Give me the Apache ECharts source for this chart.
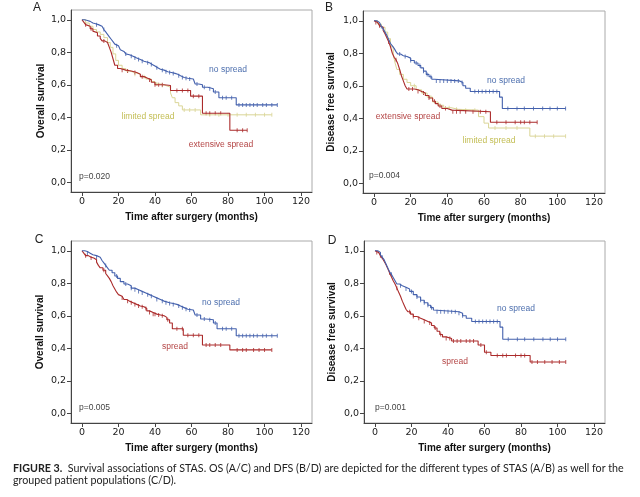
<!DOCTYPE html>
<html>
<head>
<meta charset="utf-8">
<script src="https://cdn.jsdelivr.net/npm/echarts@6/dist/echarts.min.js"></script>
<style>
html,body{margin:0;padding:0;background:#fff;}
#chart{width:640px;height:497px;}
</style>
</head>
<body>
<div id="chart"></div>
<script>
// ---------- tick labels ----------
const xTicks = [0, 20, 40, 60, 80, 100, 120];
const yTicks = [0, 0.2, 0.4, 0.6, 0.8, 1.0];

// ---------- Panel A: overall survival, STAS types ----------
const aNoT = [0,1.5,3,4.5,6,7.5,9,10,11,12,13,14,15,16,17,18,19,20,21,22,23,24,25,26,28,30,32,34,35.5,37,38.5,40,41.5,43,45,47,49,51,52.5,54,56,58,61,62,64,66,69,72,75,84.5];
const aNoS = [1,0.995,0.99,0.98,0.975,0.97,0.965,0.96,0.95,0.94,0.925,0.91,0.895,0.88,0.865,0.85,0.84,0.83,0.815,0.805,0.795,0.79,0.785,0.775,0.765,0.755,0.745,0.74,0.735,0.725,0.715,0.705,0.695,0.69,0.68,0.675,0.67,0.665,0.655,0.645,0.64,0.635,0.63,0.605,0.6,0.585,0.575,0.555,0.52,0.476];
const aNoEnd = 107;
const aNoCens = [8,12,19,24,27,29,31,33,36,38,41,44,46,48,50,53,55,57,59,63,67,70,73,77,79,82,86,88,90,92,94,96,99,101,104,107];

const aLimT = [0,2,4,6,8,10,12,14,15.5,17,18.5,20,22,24,26,29,32,35,38,40,43,46,48.5,49.5,51,53,55,65];
const aLimS = [1,0.98,0.96,0.94,0.925,0.91,0.89,0.86,0.83,0.79,0.75,0.72,0.7,0.685,0.675,0.665,0.65,0.635,0.62,0.605,0.595,0.585,0.55,0.52,0.49,0.47,0.445,0.415];
const aLimEnd = 104;
const aLimCens = [25,29,34,41,44,56,59,62,70,75,80,85,90,95,100,104];

const aExtT = [0,1,2,3,4.5,6,7,8.5,10,11,12.5,14,15,16,17,18,19.5,21,24,27,30,32,34,36,38,40,45,48.5,59.5,66,81];
const aExtS = [1,0.985,0.97,0.96,0.945,0.93,0.92,0.9,0.885,0.87,0.86,0.85,0.83,0.8,0.76,0.72,0.7,0.69,0.685,0.675,0.665,0.65,0.64,0.63,0.615,0.6,0.595,0.565,0.53,0.425,0.32];
const aExtEnd = 90.5;
const aExtCens = [2,5,12,22,25,29,33,37,40,42,44,52,55,58,61,64,68,70,73,76,85,88,90.5];

// ---------- Panel B: disease free survival, STAS types ----------
const bNoT = [0,1.5,3,4,5,6,7,8,9,10,11,12,13,14.5,16,18,20,22,24,25.5,27,28.5,30,31.5,33,46.5,48.5,50,52.5,68.5,70];
const bNoS = [1,0.99,0.98,0.965,0.95,0.93,0.91,0.885,0.86,0.845,0.83,0.81,0.795,0.785,0.78,0.77,0.755,0.74,0.725,0.71,0.69,0.67,0.655,0.64,0.63,0.62,0.6,0.585,0.565,0.53,0.46];
const bNoEnd = 104.5;
const bNoCens = [4,9,14,17,20,23,25,27,29,31,34,36,38,40,42,44,46,48,55,57,59,61,63,65,67,73,78,82,87,92,96,100,104.5];

const bLimT = [0,2,4,6,7.5,9,10.5,11.5,12.5,14,16,18,20,23,26,29,32,35,38,42,46,57,60,62.5,85];
const bLimS = [1,0.98,0.96,0.93,0.89,0.84,0.79,0.74,0.7,0.67,0.64,0.62,0.6,0.575,0.555,0.53,0.5,0.48,0.465,0.455,0.45,0.41,0.37,0.34,0.29];
const bLimEnd = 104.5;
const bLimCens = [22,27,31,36,41,45,50,55,66,72,78,88,93,98,104.5];

const bExtT = [0,1,2,3,4,5,6,7,8,9,10,11,12,13,14,15,16,17,18,22,24,26,28,30,32,33.5,35,37,40,42.5,63.5];
const bExtS = [1,0.99,0.98,0.97,0.96,0.94,0.92,0.895,0.87,0.84,0.8,0.775,0.76,0.735,0.7,0.66,0.63,0.6,0.58,0.575,0.565,0.555,0.54,0.525,0.505,0.49,0.475,0.46,0.45,0.44,0.375];
const bExtEnd = 89;
const bExtCens = [1,3,8,12,19,21,24,27,30,33,36,39,43,45,47,50,54,58,61,67,72,77,80,82,85,89];

// ---------- Panel C: overall survival, grouped ----------
const cNoT = [0,1.5,3,4.5,6,8,10,11,12,13,14,15,16.5,18,19.5,21,23,25,27,29,31,33,35,37,39,41,43,45,48,50,52,54,56,58,61,62,65,68,72,74,84.5];
const cNoS = [1,0.995,0.985,0.975,0.97,0.96,0.955,0.94,0.925,0.91,0.895,0.88,0.865,0.845,0.83,0.81,0.795,0.785,0.77,0.76,0.75,0.74,0.73,0.72,0.71,0.7,0.69,0.68,0.675,0.67,0.66,0.65,0.64,0.635,0.63,0.605,0.58,0.575,0.555,0.52,0.477];
const cNoEnd = 107;
const cNoCens = [3,8,13,19,24,27,29,31,33,36,38,41,44,46,48,50,53,55,57,59,63,67,70,73,77,79,82,86,88,90,92,94,96,99,101,104,107];

const cSpT = [0,1,2,3.5,5,6.5,8,9,10,11.5,13,14,15,16,17,18,19,20,21,22,23,24.5,26,28,30,32,34,35.5,37,39,41,43,45,46.5,48,49.5,55.5,66,81];
const cSpS = [1,0.985,0.97,0.96,0.955,0.945,0.93,0.91,0.895,0.88,0.86,0.845,0.83,0.81,0.785,0.765,0.745,0.73,0.72,0.71,0.7,0.69,0.68,0.67,0.66,0.655,0.645,0.63,0.62,0.61,0.605,0.6,0.59,0.575,0.555,0.52,0.48,0.42,0.39];
const cSpEnd = 104;
const cSpCens = [2,5,12,22,25,27,29,31,33,35,37,39,40,42,44,47,52,55,58,61,64,68,70,73,76,85,88,90,94,97,100,104];

// ---------- Panel D: disease free survival, grouped ----------
const dNoT = [0,1.5,3,4,5,6,7,8,9,10,11,12,13.5,15,17,19,21,23,25,27,29,30.5,32,33,46,48,50,53,68.5,70];
const dNoS = [1,0.99,0.975,0.96,0.945,0.92,0.895,0.87,0.855,0.835,0.815,0.795,0.785,0.775,0.765,0.75,0.73,0.715,0.695,0.68,0.665,0.65,0.635,0.625,0.615,0.6,0.585,0.565,0.53,0.455];
const dNoEnd = 104.5;
const dNoCens = [4,9,14,17,20,23,25,27,29,31,34,36,38,40,42,44,46,48,55,57,59,61,63,65,67,73,78,82,87,92,96,100,104.5];

const dSpT = [0,1,2,3,4,5,6,7,8,9,10,11,12,13,14,15,16,17,18,19.5,21,23,25,27,29,31,32.5,34,35.5,37,39,42,56.5,60,62,63.5,85];
const dSpS = [1,0.99,0.98,0.97,0.955,0.935,0.915,0.89,0.865,0.84,0.815,0.795,0.77,0.745,0.72,0.69,0.665,0.64,0.625,0.61,0.595,0.585,0.575,0.565,0.555,0.54,0.525,0.505,0.485,0.47,0.46,0.445,0.42,0.375,0.375,0.355,0.315];
const dSpEnd = 104.5;
const dSpCens = [1,3,8,12,19,21,24,27,30,33,36,39,41,43,45,47,50,52,54,58,61,67,70,72,77,80,82,86,89,93,97,101,104.5];

// ---------- colours ----------
const BLUE = '#4461ad', RED = '#ab2b2b', OLIVE = '#dad596';
const BLUE_T = '#4d6fae', RED_T = '#b44545', OLIVE_T = '#c3be55';

// ---------- helpers ----------
function kmLine(times, surv, end) {
  const d = times.map((t, i) => [t, surv[i]]);
  d.push([end, surv[surv.length - 1]]);
  return d;
}
function censorPts(cens, times, surv) {
  return cens.map(c => {
    let s = surv[0];
    for (let i = 0; i < times.length; i++) if (times[i] <= c) s = surv[i];
    return [c, s];
  });
}
function curve(idx, times, surv, end, cens, color, width) {
  return [
    { type: 'line', step: 'end', xAxisIndex: idx, yAxisIndex: idx, data: kmLine(times, surv, end),
      symbol: 'none', lineStyle: { color: color, width: width }, silent: true, animation: false },
    { type: 'scatter', xAxisIndex: idx, yAxisIndex: idx, data: censorPts(cens, times, surv),
      symbol: 'rect', symbolSize: [1, 4], itemStyle: { color: color }, silent: true, animation: false }
  ];
}

const grids = [
  { left: 71, top: 10, width: 241, height: 182 },
  { left: 363, top: 11, width: 242, height: 182 },
  { left: 71, top: 241, width: 241, height: 182 },
  { left: 364, top: 241, width: 241, height: 182 }
];
const yNames = ['Overall survival', 'Disease free survival', 'Overall survival', 'Disease free survival'];
const yGaps = [25, 27, 26, 27];

const axisCol = '#444';
const xAxes = grids.map((g, i) => ({
  gridIndex: i, type: 'value', min: -6, max: 126,
  axisLine: { show: true, onZero: false, lineStyle: { color: axisCol, width: 1 } },
  axisTick: { show: true, customValues: xTicks, length: 4, lineStyle: { color: axisCol } },
  axisLabel: { customValues: xTicks, fontSize: 9.5, color: '#1a1a1a', fontFamily: 'DejaVu Sans', margin: 5 },
  splitLine: { show: false },
  name: 'Time after surgery (months)', nameLocation: 'middle', nameGap: 20,
  nameTextStyle: { fontWeight: 'bold', fontSize: 10, fontFamily: 'Liberation Sans', color: '#111' }
}));
const yAxes = grids.map((g, i) => ({
  gridIndex: i, type: 'value', min: -0.06, max: 1.06,
  axisLine: { show: true, onZero: false, lineStyle: { color: axisCol, width: 1 } },
  axisTick: { show: true, customValues: yTicks, length: 4, lineStyle: { color: axisCol } },
  axisLabel: { customValues: yTicks, fontSize: 9.5, color: '#1a1a1a', fontFamily: 'DejaVu Sans', margin: 5,
    formatter: v => v.toFixed(1).replace('.', ',') },
  splitLine: { show: false },
  name: yNames[i], nameLocation: 'middle', nameGap: yGaps[i], nameRotate: 90,
  nameTextStyle: { fontWeight: 'bold', fontSize: 10, fontFamily: 'Liberation Sans', color: '#111' }
}));

const series = [].concat(
  curve(0, aLimT, aLimS, aLimEnd, aLimCens, OLIVE, 1),
  curve(0, aExtT, aExtS, aExtEnd, aExtCens, RED, 1.1),
  curve(0, aNoT, aNoS, aNoEnd, aNoCens, BLUE, 1.1),
  curve(1, bLimT, bLimS, bLimEnd, bLimCens, OLIVE, 1),
  curve(1, bExtT, bExtS, bExtEnd, bExtCens, RED, 1.1),
  curve(1, bNoT, bNoS, bNoEnd, bNoCens, BLUE, 1.1),
  curve(2, cSpT, cSpS, cSpEnd, cSpCens, RED, 1.1),
  curve(2, cNoT, cNoS, cNoEnd, cNoCens, BLUE, 1.1),
  curve(3, dSpT, dSpS, dSpEnd, dSpCens, RED, 1.1),
  curve(3, dNoT, dNoS, dNoEnd, dNoCens, BLUE, 1.1)
);

function txt(text, x, y, color, size, align) {
  return { type: 'text', x: x, y: y, silent: true,
    style: { text: text, fill: color, font: size + 'px "Liberation Sans", Arial, sans-serif',
      align: align || 'center', verticalAlign: 'middle', textAlign: align || 'center', textVerticalAlign: 'middle' } };
}
const graphics = [
  txt('A', 37, 8, '#222', 12), txt('B', 329, 8, '#222', 12),
  txt('C', 39, 240, '#222', 12), txt('D', 332, 241, '#222', 12),
  txt('p=0.020', 79, 177, '#444', 8.5, 'left'), txt('p=0.004', 369, 176, '#444', 8.5, 'left'),
  txt('p=0.005', 79, 408, '#444', 8.5, 'left'), txt('p=0.001', 375, 408, '#444', 8.5, 'left'),
  txt('no spread', 228, 70, BLUE_T, 8.5), txt('limited spread', 148, 117, OLIVE_T, 8.5),
  txt('extensive spread', 221, 145, RED_T, 8.5),
  txt('no spread', 506, 81, BLUE_T, 8.5), txt('extensive spread', 408, 117, RED_T, 8.5),
  txt('limited spread', 489, 141, OLIVE_T, 8.5),
  txt('no spread', 221, 303, BLUE_T, 8.5), txt('spread', 175, 347, RED_T, 8.5),
  txt('no spread', 516, 309, BLUE_T, 8.5), txt('spread', 455, 362, RED_T, 8.5)
];

const chart = echarts.init(document.getElementById('chart'), null, { renderer: 'canvas' });
chart.setOption({
  backgroundColor: '#fff',
  animation: false,
  title: {
    left: 13, top: 462, padding: 0,
    text: '{b|FIGURE 3.}  Survival associations of STAS. OS (A/C) and DFS (B/D) are depicted for the different types of STAS (A/B) as well for the\ngrouped patient populations (C/D).',
    textStyle: { fontSize: 10.7, fontWeight: 'normal', fontFamily: 'Lato', color: '#222', lineHeight: 12.5,
      rich: { b: { fontSize: 10.7, fontWeight: 'bold', fontFamily: 'Lato', color: '#222' } } }
  },
  grid: grids.map(g => Object.assign({ show: true, borderColor: '#aaa', borderWidth: 1, backgroundColor: 'transparent' }, g)),
  xAxis: xAxes,
  yAxis: yAxes,
  series: series,
  graphic: graphics
});
</script>
</body>
</html>
